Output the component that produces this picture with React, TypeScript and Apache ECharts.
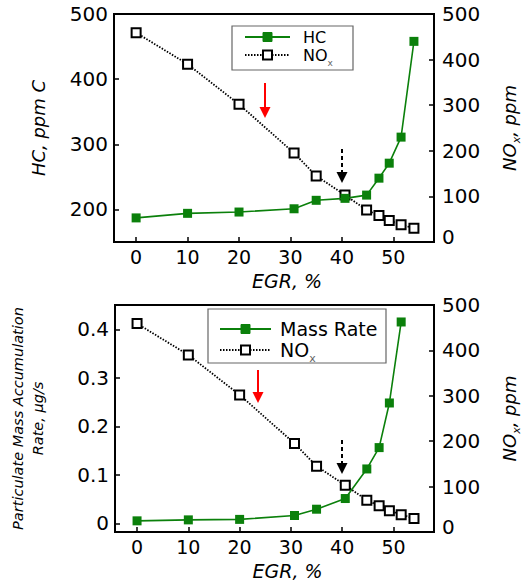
import React, { useEffect, useRef } from "react";
import * as echarts from "echarts";

// EGR sweep (%), shared by both panels
const egr = [0, 10, 20, 30.7, 35, 40.6, 44.8, 47.2, 49.2, 51.5, 54];
// Hydrocarbons, ppm C
const hc = [187, 194, 196, 201, 214, 217, 222, 248, 271, 311, 458];
// Particulate mass accumulation rate, µg/s (no point at the last EGR level)
const massRate = [0.005, 0.007, 0.008, 0.016, 0.029, 0.051, 0.112, 0.156, 0.248, 0.415];
// NOx, ppm
const nox = [459, 390, 302, 195, 145, 103, 70, 58, 47, 38, 30];

const xTicks = [0, 10, 20, 30, 40, 50];
const hcTicks = [200, 300, 400, 500];
const noxTicks = [0, 100, 200, 300, 400, 500];
const massTicks = [0, 0.1, 0.2, 0.3, 0.4];

const FONT = "DejaVu Sans";
const GREEN = "#0b800b";
const TICK_FS = 20;

const pairs = (xs: number[], ys: number[]) => ys.map((y, i) => [xs[i], y]);

const xAxisBase = (gridIndex: number) => ({
  type: "value",
  gridIndex,
  min: -4.3,
  max: 57.9,
  name: "EGR, %",
  nameLocation: "middle",
  nameGap: 31,
  nameTextStyle: {
    fontFamily: FONT,
    fontSize: 19,
    lineHeight: 16,
    fontStyle: "italic",
    color: "#000",
    padding: [0, 0, 0, 26],
  },
  axisLine: { show: true, onZero: false, lineStyle: { color: "#000", width: 2 } },
  axisTick: { show: true, inside: true, length: 5, lineStyle: { color: "#000", width: 1.5 }, customValues: xTicks },
  axisLabel: { fontFamily: FONT, fontSize: 19, lineHeight: 18, color: "#000", margin: 6, customValues: xTicks },
  splitLine: { show: false },
});

const noxAxis = (gridIndex: number) => ({
  type: "value",
  gridIndex,
  position: "right",
  min: 0,
  max: 500,
  name: "{a|NO}{b|x}{a|, ppm}",
  nameLocation: "middle",
  nameGap: 66,
  nameTextStyle: {
    rich: {
      a: { fontFamily: FONT, fontSize: 18, fontStyle: "italic", color: "#000" },
      b: { fontFamily: FONT, fontSize: 11, fontStyle: "italic", color: "#000", verticalAlign: "bottom", padding: [0, 0, -4, 0] },
    },
  },
  axisLine: { show: true, onZero: false, lineStyle: { color: "#000", width: 2 } },
  axisTick: { show: true, inside: true, length: 5, lineStyle: { color: "#000", width: 1.5 }, customValues: noxTicks },
  axisLabel: {
    fontFamily: FONT,
    fontSize: TICK_FS,
    color: "#000",
    margin: 8,
    customValues: noxTicks,
    formatter: (v: number) => (v === 0 ? "{z|0}" : String(v)),
    rich: { z: { fontFamily: FONT, fontSize: TICK_FS, color: "#000", padding: [0, 0, 10, 0] } },
  },
  splitLine: { show: false },
});

const noxSeries = (xAxisIndex: number, yAxisIndex: number) => ({
  type: "line",
  name: "NOx",
  xAxisIndex,
  yAxisIndex,
  data: pairs(egr, nox),
  symbol: "rect",
  symbolSize: 9,
  itemStyle: { color: "#fff", borderColor: "#000", borderWidth: 2 },
  lineStyle: { color: "#000", width: 1.8, type: [1.5, 1.5] },
  z: 2,
});

const legendBox = (
  x: number, y: number, w: number, h: number,
  lineX0: number, lineX1: number, row1: number, row2: number,
  textX: number, label: string, fs: number, subFs: number
) => ({
  type: "group",
  children: [
    { type: "rect", shape: { x, y, width: w, height: h }, style: { fill: "#fff", stroke: "#666", lineWidth: 1.2 } },
    { type: "line", shape: { x1: lineX0, y1: row1, x2: lineX1, y2: row1 }, style: { stroke: GREEN, lineWidth: 2 } },
    {
      type: "rect",
      shape: { x: (lineX0 + lineX1) / 2 - 4.5, y: row1 - 4.5, width: 9, height: 9 },
      style: { fill: GREEN, stroke: GREEN, lineWidth: 1 },
    },
    { type: "line", shape: { x1: lineX0, y1: row2, x2: lineX1, y2: row2 }, style: { stroke: "#000", lineWidth: 1.8, lineDash: [1.5, 1.5] } },
    {
      type: "rect",
      shape: { x: (lineX0 + lineX1) / 2 - 4.5, y: row2 - 4.5, width: 9, height: 9 },
      style: { fill: "#fff", stroke: "#000", lineWidth: 2 },
    },
    {
      type: "text",
      x: textX,
      y: row1,
      style: { text: label, fontFamily: FONT, fontSize: fs, fill: "#000", verticalAlign: "middle", align: "left" },
    },
    {
      type: "text",
      x: textX,
      y: row2,
      style: {
        text: "{n|NO}{s|x}",
        verticalAlign: "middle",
        align: "left",
        rich: {
          n: { fontFamily: FONT, fontSize: fs, fill: "#000" },
          s: { fontFamily: FONT, fontSize: subFs, fill: "#666", verticalAlign: "bottom", padding: [0, 0, -4, 0] },
        },
      },
    },
  ],
});

const arrow = (x: number, y0: number, y1: number, color: string, dashed: boolean) => ({
  type: "group",
  children: [
    {
      type: "line",
      shape: { x1: x, y1: y0, x2: x, y2: y1 - 9 },
      style: { stroke: color, lineWidth: 2, lineDash: dashed ? [4, 3] : null },
    },
    {
      type: "polygon",
      shape: { points: [[x - 5.5, y1 - 11], [x + 5.5, y1 - 11], [x, y1]] },
      style: { fill: color },
    },
  ],
});

export default function App() {
  const ref = useRef<HTMLDivElement>(null);

  useEffect(() => {
    if (!ref.current) return;
    const chart = echarts.init(ref.current, null, { renderer: "svg" });
    chart.setOption({
      animation: false,
      backgroundColor: "#fff",
      grid: [
        { left: 114, right: 96, top: 14, height: 228, show: true, borderColor: "#000", borderWidth: 2, backgroundColor: "transparent" },
        { left: 114, right: 96, top: 305, height: 227, show: true, borderColor: "#000", borderWidth: 2, backgroundColor: "transparent" },
      ],
      xAxis: [xAxisBase(0), xAxisBase(1)],
      yAxis: [
        {
          type: "value",
          gridIndex: 0,
          position: "left",
          min: 150,
          max: 500,
          name: "HC, ppm C",
          nameLocation: "middle",
          nameGap: 67,
          nameTextStyle: { fontFamily: FONT, fontSize: 18, fontStyle: "italic", color: "#000" },
          axisLine: { show: true, onZero: false, lineStyle: { color: "#000", width: 2 } },
          axisTick: { show: true, inside: true, length: 5, lineStyle: { color: "#000", width: 1.5 }, customValues: hcTicks },
          axisLabel: { fontFamily: FONT, fontSize: TICK_FS, color: "#000", margin: 6, customValues: hcTicks },
          splitLine: { show: false },
        },
        noxAxis(0),
        {
          type: "value",
          gridIndex: 1,
          position: "left",
          min: -0.018,
          max: 0.45,
          name: "Particulate Mass Accumulation\nRate, μg/s",
          nameLocation: "middle",
          nameGap: 67,
          nameTextStyle: { fontFamily: FONT, fontSize: 14.5, fontStyle: "italic", color: "#000", lineHeight: 20 },
          axisLine: { show: true, onZero: false, lineStyle: { color: "#000", width: 2 } },
          axisTick: { show: true, inside: true, length: 5, lineStyle: { color: "#000", width: 1.5 }, customValues: massTicks },
          axisLabel: {
            fontFamily: FONT,
            fontSize: TICK_FS,
            color: "#000",
            margin: 6,
            customValues: massTicks,
            formatter: (v: number) => (v === 0 ? "0" : v.toFixed(1)),
          },
          splitLine: { show: false },
        },
        noxAxis(1),
      ],
      series: [
        noxSeries(0, 1),
        {
          type: "line",
          name: "HC",
          xAxisIndex: 0,
          yAxisIndex: 0,
          data: pairs(egr, hc),
          symbol: "rect",
          symbolSize: 9,
          itemStyle: { color: GREEN },
          lineStyle: { color: GREEN, width: 1.6 },
          z: 3,
        },
        noxSeries(1, 3),
        {
          type: "line",
          name: "Mass Rate",
          xAxisIndex: 1,
          yAxisIndex: 2,
          data: pairs(egr, massRate),
          symbol: "rect",
          symbolSize: 9,
          itemStyle: { color: GREEN },
          lineStyle: { color: GREEN, width: 1.6 },
          z: 3,
        },
      ],
      graphic: [
        legendBox(232, 26, 121, 44, 245, 290, 37, 55, 303, "HC", 16, 9),
        legendBox(208, 309, 178, 54, 220, 271, 329, 350, 280, "Mass Rate", 19, 11),
        arrow(265, 83, 118, "#ff0000", false),
        arrow(342, 149, 183, "#000", true),
        arrow(258, 370, 403, "#ff0000", false),
        arrow(342, 440, 474, "#000", true),
      ],
    });
    return () => chart.dispose();
  }, []);

  return <div ref={ref} style={{ position: "fixed", left: 0, top: 0, width: 530, height: 583 }} />;
}
